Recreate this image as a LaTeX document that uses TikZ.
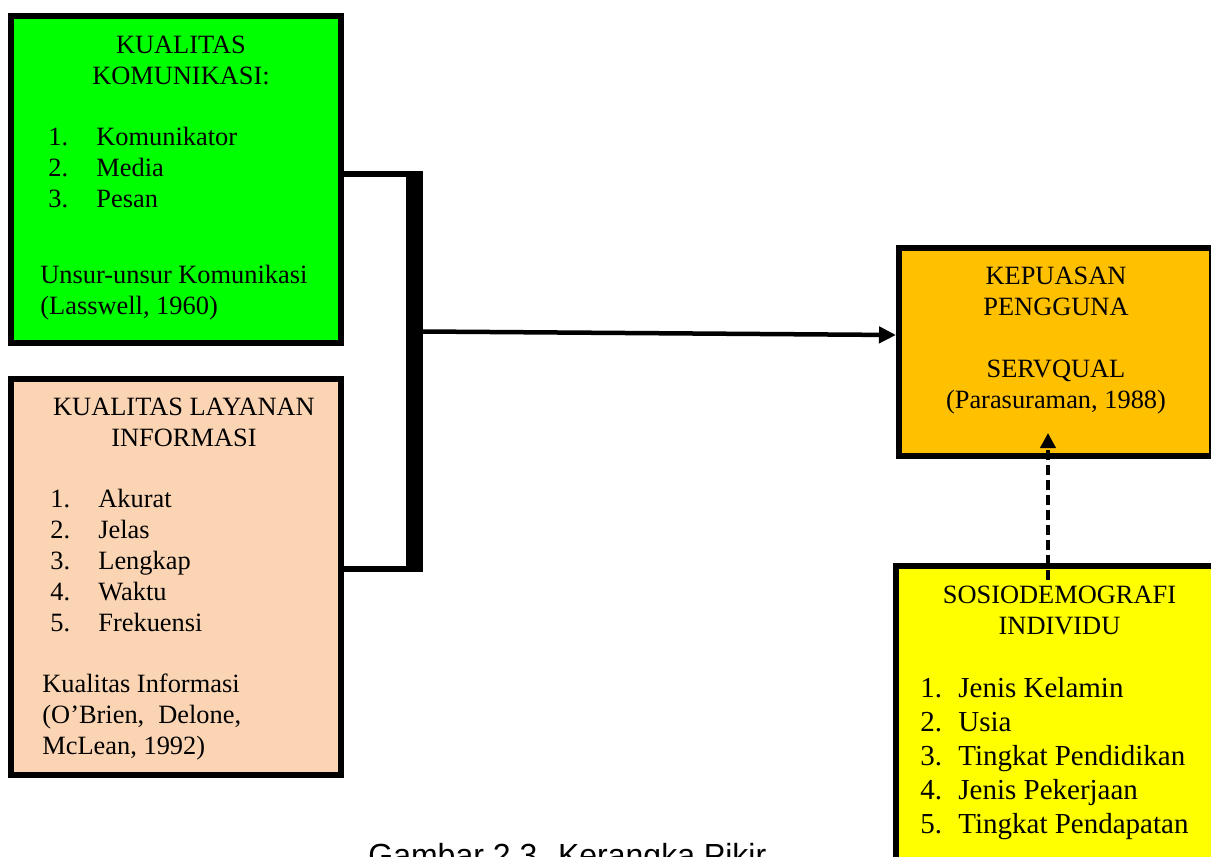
\documentclass[tikz,border=0pt]{standalone}
\usepackage{fontspec}
\setmainfont{Liberation Serif}
\newfontfamily\capfont{Liberation Sans}
\usetikzlibrary{arrows.meta}
\definecolor{kgreen}{HTML}{00FF00}
\definecolor{kpeach}{HTML}{FBD4B4}
\definecolor{korange}{HTML}{FFC000}
\definecolor{kyellow}{HTML}{FFFF00}
\begin{document}
\begin{tikzpicture}[x=0.5pt, y=-0.5pt,
		box/.style={draw, line width=3pt, inner sep=0pt},
		txt/.style={inner sep=0pt, font=\fontsize{13.2}{15.5}\selectfont},
		link/.style={line width=3pt},
		arr/.style={line width=2.25pt, -{Triangle[length=8.5pt,width=8pt]}},
		dasharr/.style={line width=2pt, dash pattern=on 5pt off 2.5pt, -{Triangle[length=7.5pt,width=7.5pt]}}]
		\useasboundingbox (0,0) rectangle (1211,857);
		\clip (0,0) rectangle (1211,857);
		% boxes
		\node[box, fill=kgreen, minimum width=165pt, minimum height=163.5pt] (kom) at (176,179.5) {};
		\node[box, fill=kpeach, minimum width=165pt, minimum height=198pt] (lay) at (176,577) {};
		\node[box, fill=korange, minimum width=156.5pt, minimum height=104pt] (kep) at (1055.5,352) {};
		\node[box, fill=kyellow, minimum width=170pt, minimum height=160pt] (sos) at (1066,726) {};
		% texts
		\node[txt, anchor=base] (kom-title) at (181,53) {\begin{tabular}[t]{@{}c@{}}KUALITAS\\KOMUNIKASI:\end{tabular}};
		\node[txt, anchor=base west] (kom-list) at (48,145) {\begin{tabular}[t]{@{}p{24pt}@{}l@{}}1.&Komunikator\\2.&Media\\3.&Pesan\end{tabular}};
		\node[txt, anchor=base west] (kom-src) at (40,283) {\begin{tabular}[t]{@{}l@{}}Unsur-unsur Komunikasi\\(Lasswell, 1960)\end{tabular}};
		\node[txt, anchor=base] (lay-title) at (184,415) {\begin{tabular}[t]{@{}c@{}}KUALITAS LAYANAN\\INFORMASI\end{tabular}};
		\node[txt, anchor=base west] (lay-list) at (50,507) {\begin{tabular}[t]{@{}p{24pt}@{}l@{}}1.&Akurat\\2.&Jelas\\3.&Lengkap\\4.&Waktu\\5.&Frekuensi\end{tabular}};
		\node[txt, anchor=base west] (lay-src) at (42,692) {\begin{tabular}[t]{@{}l@{}}Kualitas Informasi\\(O’Brien,\hspace{7pt}Delone,\\McLean, 1992)\end{tabular}};
		\node[txt, anchor=base] (kep-title) at (1056,284) {\begin{tabular}[t]{@{}c@{}}KEPUASAN\\PENGGUNA\\ \\SERVQUAL\\(Parasuraman, 1988)\end{tabular}};
		\node[txt, anchor=base] (sos-title) at (1059.5,603) {\begin{tabular}[t]{@{}c@{}}SOSIODEMOGRAFI\\INDIVIDU\end{tabular}};
		\node[txt, anchor=base west, font=\fontsize{14.5}{17}\selectfont] (sos-list) at (920,697) {\begin{tabular}[t]{@{}p{19pt}@{}l@{}}1.&Jenis Kelamin\\2.&Usia\\3.&Tingkat Pendidikan\\4.&Jenis Pekerjaan\\5.&Tingkat Pendapatan\end{tabular}};
		\node[inner sep=0pt, anchor=base west, font=\capfont\fontsize{16}{19}\selectfont] (caption) at (368,866) {Gambar 2.3. Kerangka Pikir};
		% bracket and arrows
		\coordinate (jt) at (414.5,174);
		\coordinate (jb) at (414.5,569);
		\coordinate (jm) at (423,331.5);
		\draw[link] (jt -| kom.east) -- (jt);
		\draw[link] (jb -| lay.east) -- (jb);
		\draw[line width=8.5pt] ([yshift=1.5pt]jt) -- ([yshift=-1.5pt]jb);
		\draw[arr] (jm) -- ([yshift=8.5pt]kep.west);
		\coordinate (sos-in) at (1048,580);
		\coordinate (kep-in) at (1048,433);
		\draw[dasharr] (sos-in) -- (kep-in);
	\end{tikzpicture}
\end{document}
